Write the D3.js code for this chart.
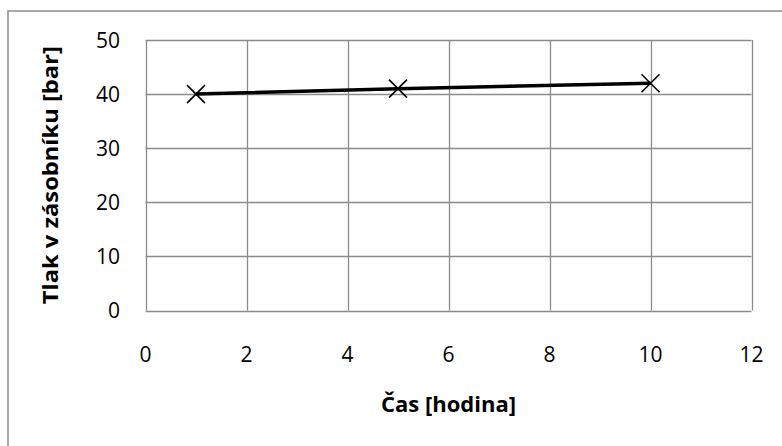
<!DOCTYPE html>
<html><head><meta charset="utf-8">
<script src="https://cdn.jsdelivr.net/npm/d3@7"></script>
<style>html,body{margin:0;padding:0;background:#fff;}svg{display:block;}</style>
</head><body>
<script>
const hours = [1, 5, 10];
const pressure = [40, 41, 42];
const xTicks = [0, 2, 4, 6, 8, 10, 12];
const yTicks = [0, 10, 20, 30, 40, 50];
const xTitle = "Čas [hodina]";
const yTitle = "Tlak v zásobníku [bar]";

const W = 782, H = 446;
const font = "'Open Sans', sans-serif";
const svg = d3.select("body").append("svg").attr("width", W).attr("height", H);

svg.append("rect").attr("x", 8).attr("y", 11).attr("width", W).attr("height", H)
  .attr("fill", "#fff").attr("stroke", "#8c8c8c").attr("stroke-width", 1.5);

const x = d3.scaleLinear().domain([0, 12]).range([145.5, 751.5]);
const y = d3.scaleLinear().domain([0, 50]).range([310.5, 40]);

const g = svg.append("g");
g.selectAll(".vg").data(xTicks).join("line")
  .attr("x1", d => Math.round(x(d)) + 0.5).attr("x2", d => Math.round(x(d)) + 0.5)
  .attr("y1", y(0)).attr("y2", y(50))
  .attr("stroke", "#8c8c8c").attr("stroke-width", 1.3);
g.selectAll(".hg").data(yTicks).join("line")
  .attr("y1", d => Math.round(y(d)) + 0.5).attr("y2", d => Math.round(y(d)) + 0.5)
  .attr("x1", x(0)).attr("x2", x(12))
  .attr("stroke", "#8c8c8c").attr("stroke-width", 1.3);

svg.selectAll(".xl").data(xTicks).join("text")
  .attr("x", d => x(d)).attr("y", 362)
  .attr("text-anchor", "middle").attr("font-family", font).attr("font-size", 21)
  .attr("fill", "#000").text(d => d);
svg.selectAll(".yl").data(yTicks).join("text")
  .attr("x", 120).attr("y", d => y(d) + 7.5)
  .attr("text-anchor", "end").attr("font-family", font).attr("font-size", 21)
  .attr("fill", "#000").text(d => d);

svg.append("text").attr("x", (x(0) + x(12)) / 2).attr("y", 412)
  .attr("text-anchor", "middle").attr("font-family", font).attr("font-weight", "bold")
  .attr("font-size", 21.5).attr("textLength", 135).attr("lengthAdjust", "spacingAndGlyphs").text(xTitle);
svg.append("text").attr("transform", `translate(58,${(y(0) + y(50)) / 2}) rotate(-90)`)
  .attr("text-anchor", "middle").attr("font-family", font).attr("font-weight", "bold")
  .attr("font-size", 21.5).attr("textLength", 258).attr("lengthAdjust", "spacingAndGlyphs").text(yTitle);

const data = hours.map((h, i) => ({h, p: pressure[i]}));
svg.append("path").datum(data)
  .attr("d", d3.line().x(d => x(d.h)).y(d => y(d.p)))
  .attr("fill", "none").attr("stroke", "#000").attr("stroke-width", 3.5);

const s = 9;
svg.selectAll(".mk").data(data).join("path")
  .attr("d", d => `M${x(d.h)-s},${y(d.p)-s}L${x(d.h)+s},${y(d.p)+s}M${x(d.h)-s},${y(d.p)+s}L${x(d.h)+s},${y(d.p)-s}`)
  .attr("stroke", "#000").attr("stroke-width", 1.6).attr("fill", "none");
</script>
</body></html>
